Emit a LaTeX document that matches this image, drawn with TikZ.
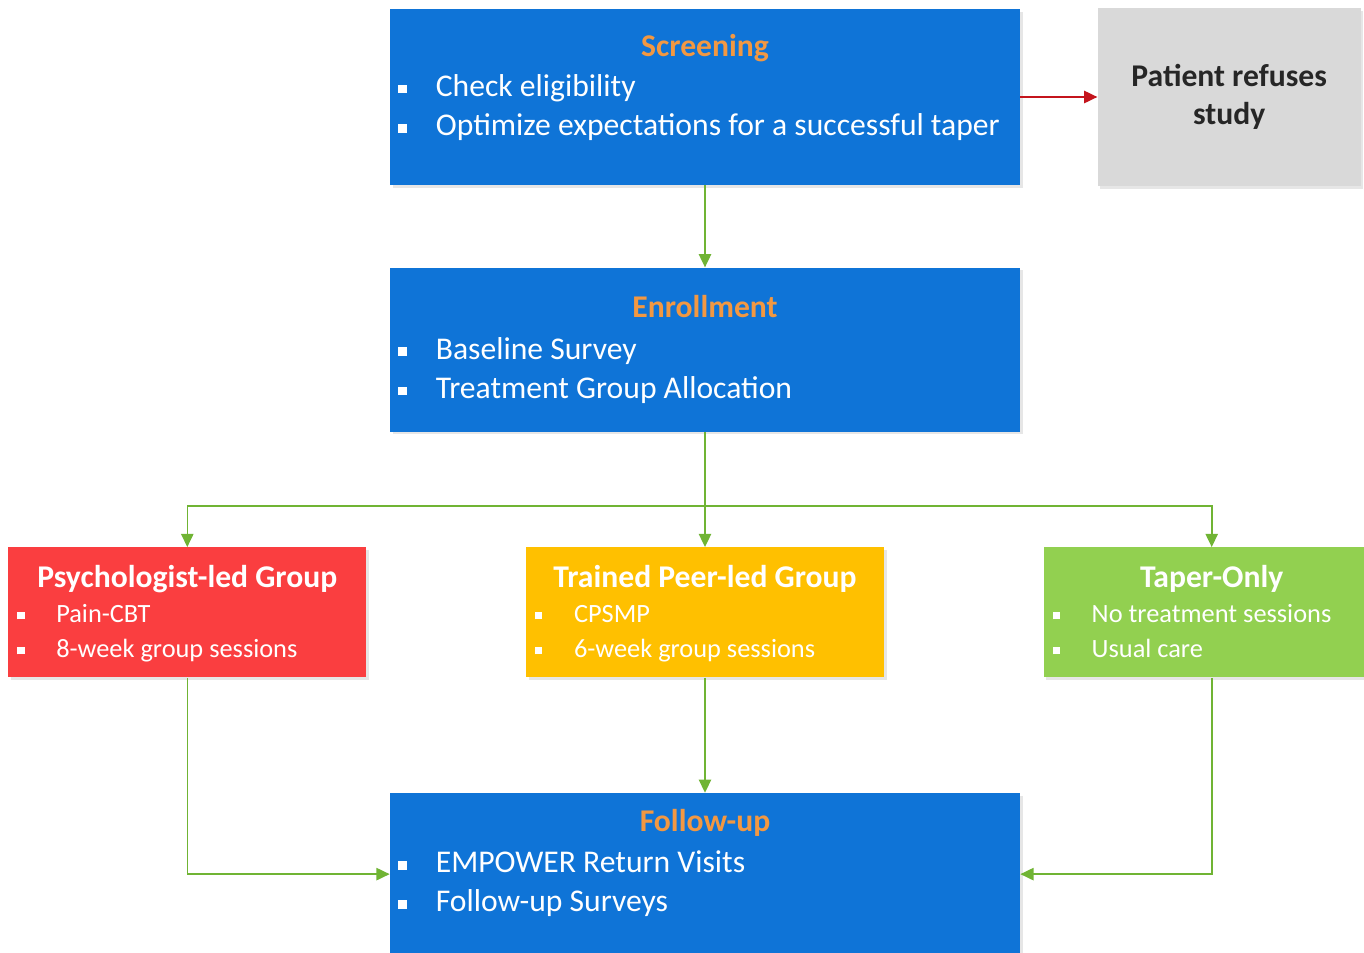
\documentclass[tikz,border=0pt]{standalone}
\usepackage{fontspec}
\setmainfont{Carlito}
\usepackage{tikz}
\usetikzlibrary{arrows.meta, positioning, calc, shadows}
\usepackage{xcolor}
\definecolor{stageblue}{RGB}{15,116,215}
\definecolor{stageorange}{RGB}{242,152,66}
\definecolor{psychred}{RGB}{250,62,64}
\definecolor{peeryellow}{RGB}{255,192,0}
\definecolor{tapergreen}{RGB}{146,208,80}
\definecolor{refusegray}{RGB}{217,217,217}
\definecolor{flowgreen}{RGB}{112,180,52}
\definecolor{refusered}{RGB}{196,20,28}

\newlength{\listgap}
\setlength{\listgap}{16.5pt}
\newcommand{\bsq}{\rule[0.1em]{0.28em}{0.28em}}
\newcommand{\steplist}[2]{%
  \begin{tabular}[t]{@{}l@{\hspace{\listgap}}l@{}}\bsq & #1\\ \bsq & #2\end{tabular}}

\begin{document}
\begin{tikzpicture}[
  x=0.2mm, y=-0.2mm,
  stage/.style={rectangle, fill=stageblue, minimum width=126mm,
                drop shadow={opacity=0.2, shadow xshift=1.5pt, shadow yshift=-1.5pt}},
  arm/.style={stage, minimum width=71.6mm, minimum height=26mm},
  refusebox/.style={stage, fill=refusegray, minimum width=52.6mm, minimum height=35.6mm,
                    font=\fontsize{18}{21.5}\selectfont\bfseries, align=center, text=black!85},
  stagehead/.style={font=\fontsize{18}{22}\selectfont\bfseries, text=stageorange,
                    anchor=base, inner sep=0pt},
  stagelist/.style={font=\fontsize{18}{22.3}\selectfont\setlength{\listgap}{16.5pt},
                    text=white, anchor=base west, inner sep=0pt},
  armhead/.style={stagehead, text=white},
  armlist/.style={stagelist, font=\fontsize{15}{19.9}\selectfont\setlength{\listgap}{18pt}},
  flowarrow/.style={-{Triangle[length=7.5pt, width=7pt]}, line width=0.9pt, flowgreen},
  refusearrow/.style={flowarrow, refusered},
]
  \useasboundingbox (0,0) rectangle (1364,952);

  % Boxes
  \node[stage, minimum height=35.2mm] (screen) at (705,97) {};
  \node[refusebox, right=15.4mm of screen, text depth=3pt] (refuse) {Patient refuses\\study};
  \node[stage, minimum height=32.8mm, below=16.4mm of screen] (enroll) {};
  \node[arm, fill=peeryellow, below=23mm of enroll] (peer) {};
  \node[arm, fill=psychred, left=31.8mm of peer] (psych) {};
  \node[arm, fill=tapergreen, minimum width=67.2mm, right=31.8mm of peer] (taper) {};
  \node[stage, minimum height=32.4mm, below=23mm of peer] (follow) {};

  % Texts
  \node[stagehead] (screenhead) at ($(screen.north)+(0,48)$) {Screening};
  \node[stagelist] (screenlist) at ($(screen.north west)+(8,88)$)
    {\steplist{Check eligibility}{Optimize expectations for a successful taper}};
  \node[stagehead] (enrollhead) at ($(enroll.north)+(0,50)$) {Enrollment};
  \node[stagelist] (enrolllist) at ($(enroll.north west)+(8,92)$)
    {\steplist{Baseline Survey}{Treatment Group Allocation}};
  \node[armhead] (psychhead) at ($(psych.north)+(0,40)$) {Psychologist-led Group};
  \node[armlist] (psychlist) at ($(psych.north west)+(9,75)$)
    {\steplist{Pain-CBT}{8-week group sessions}};
  \node[armhead] (peerhead) at ($(peer.north)+(0,40)$) {Trained Peer-led Group};
  \node[armlist] (peerlist) at ($(peer.north west)+(9,75)$)
    {\steplist{CPSMP}{6-week group sessions}};
  \node[armhead] (taperhead) at ($(taper.north)+(0,40)$) {Taper-Only};
  \node[armlist] (taperlist) at ($(taper.north west)+(9,75)$)
    {\steplist{No treatment sessions}{Usual care}};
  \node[stagehead] (followhead) at ($(follow.north)+(0,39)$) {Follow-up};
  \node[stagelist] (followlist) at ($(follow.north west)+(8,80)$)
    {\steplist{EMPOWER Return Visits}{Follow-up Surveys}};

  % Edges
  \coordinate (split) at ($(enroll.south)+(0,74)$);
  \draw[refusearrow] (screen) -- (refuse);
  \draw[flowarrow] (screen) -- (enroll);
  \draw[flowarrow] (enroll) -- (peer);
  \draw[flowarrow] (split) -| (psych);
  \draw[flowarrow] (split) -| (taper);
  \draw[flowarrow] (peer) -- (follow);
  \draw[flowarrow] (psych) |- (follow);
  \draw[flowarrow] (taper) |- (follow);
\end{tikzpicture}
\end{document}
